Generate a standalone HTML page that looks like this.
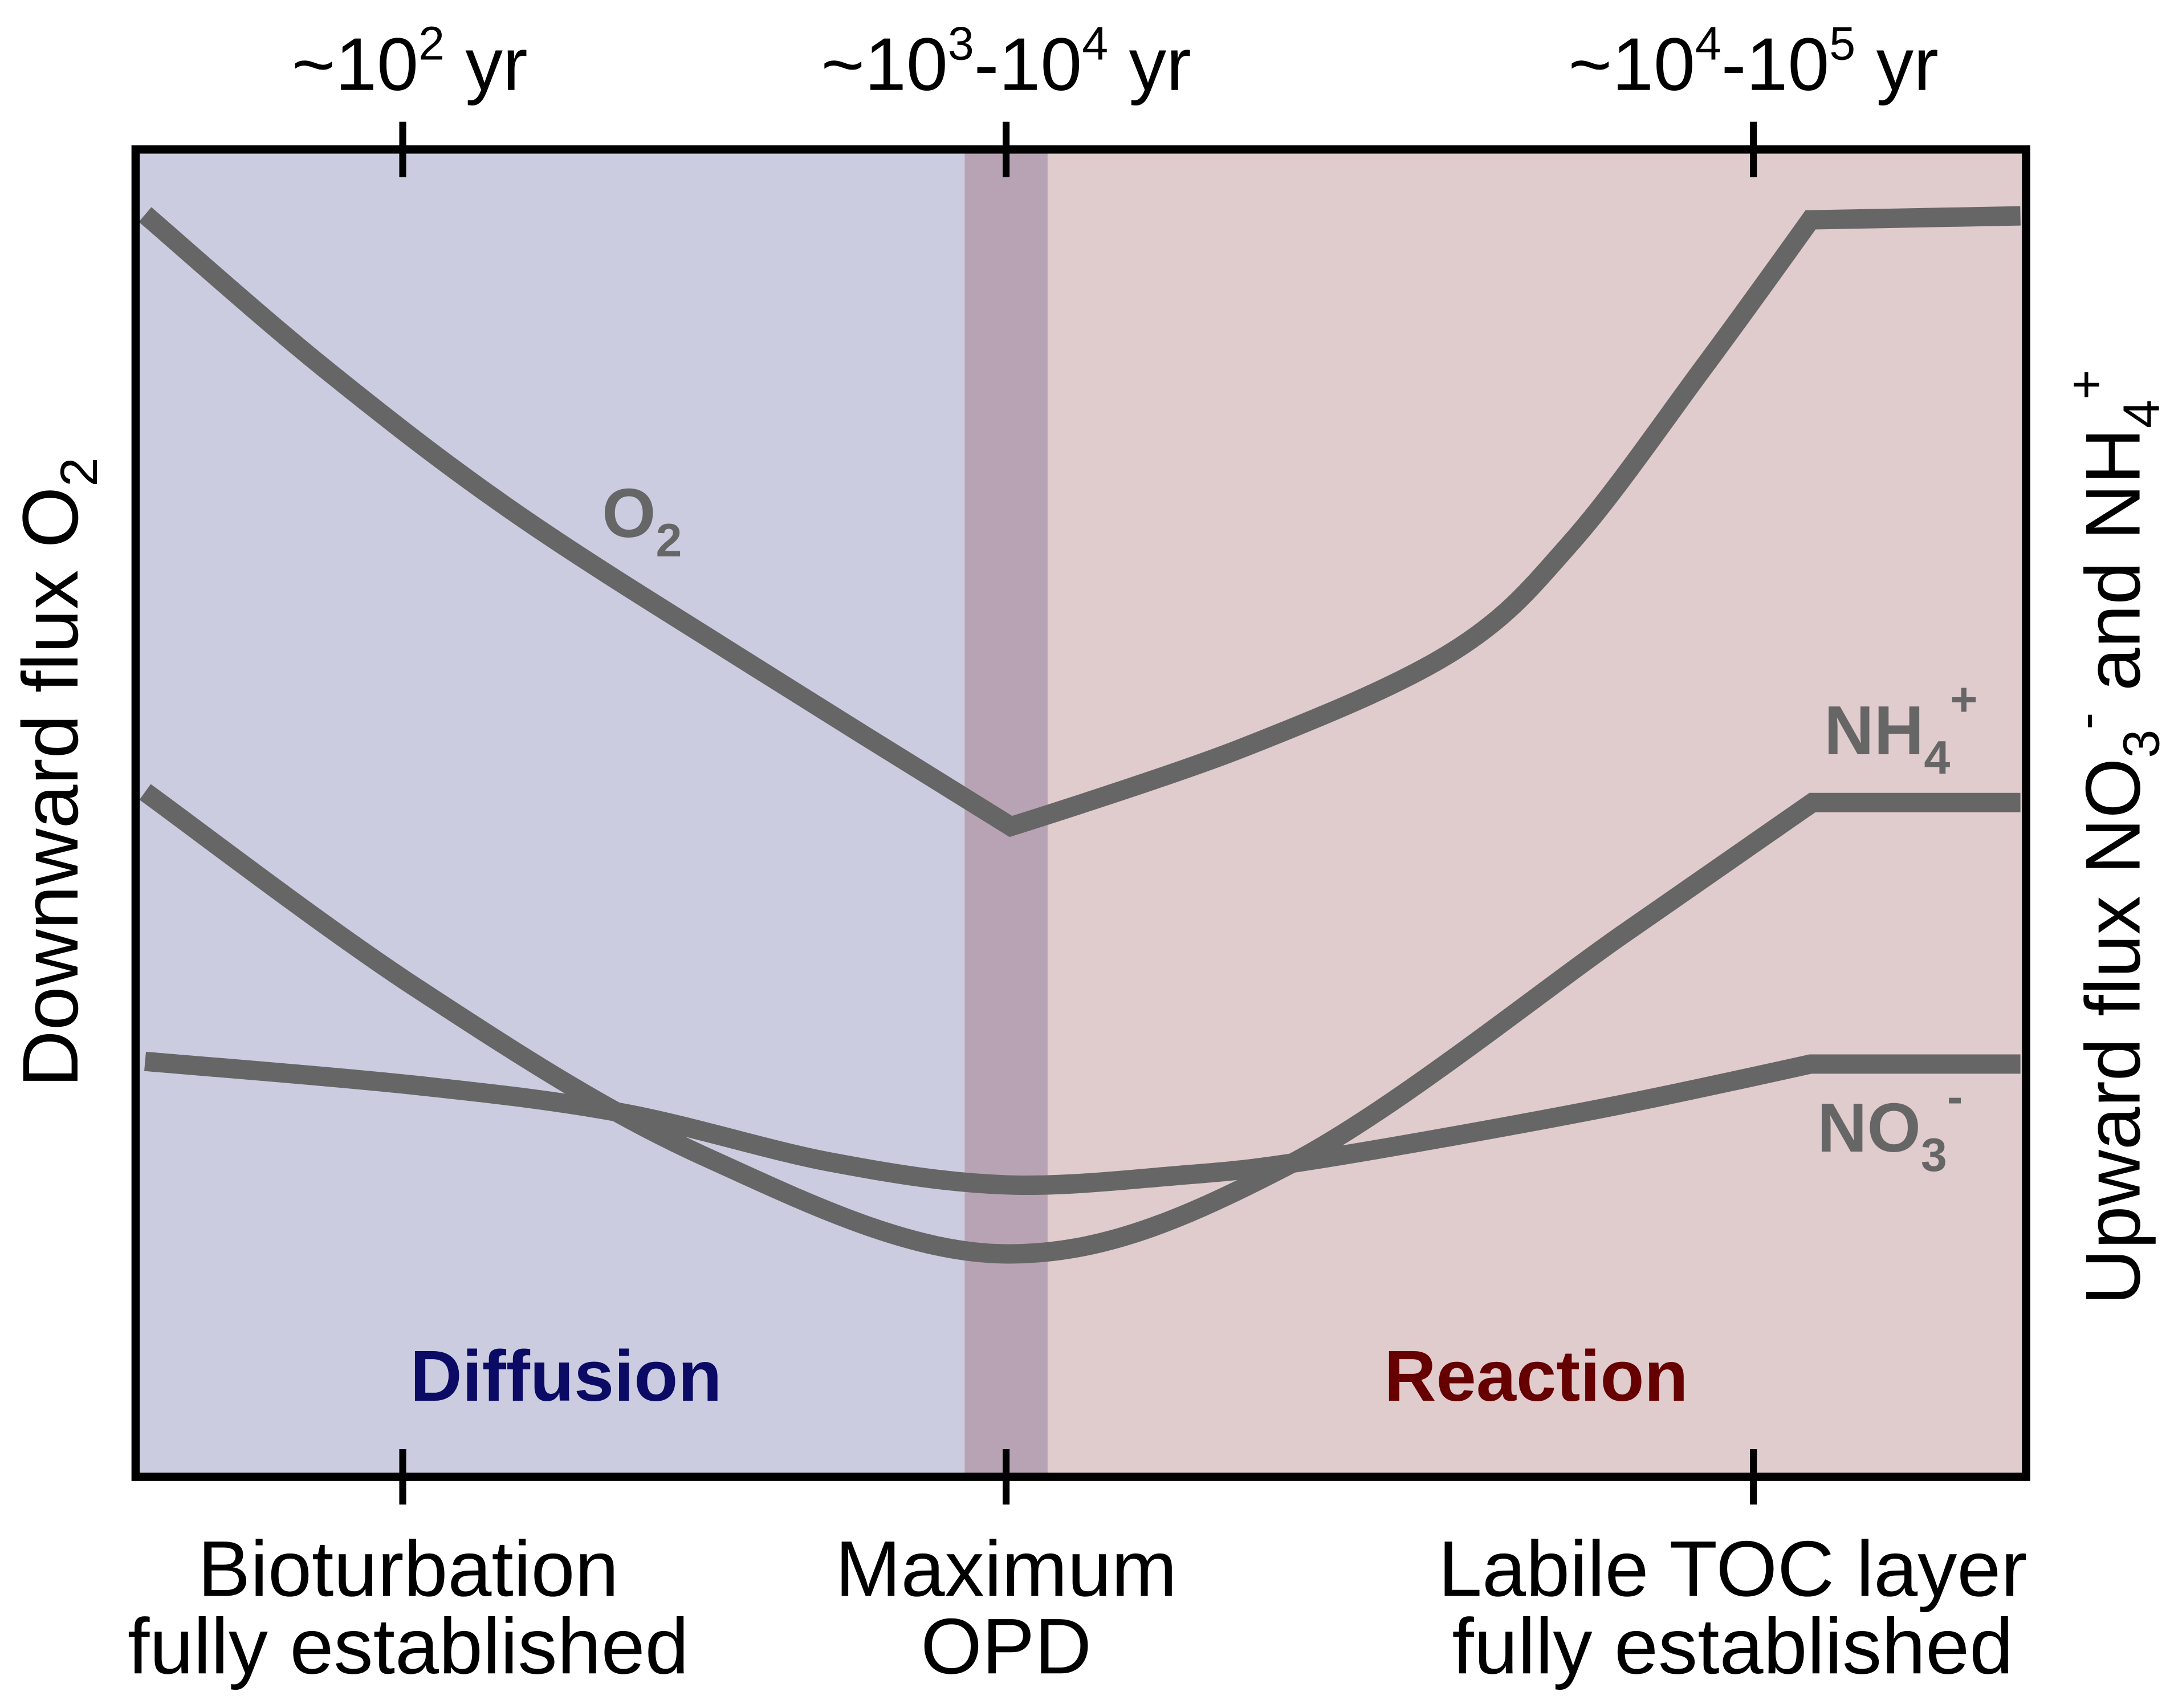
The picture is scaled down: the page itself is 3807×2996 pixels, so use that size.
<!DOCTYPE html>
<html><head><meta charset="utf-8">
<style>
html,body{margin:0;padding:0;background:#fff;}
svg{display:block;}
text{font-family:"Liberation Sans",Arial,sans-serif;}
</style></head>
<body>
<svg id="chart" width="3807" height="2996" viewBox="0 0 1568 1234" preserveAspectRatio="none" xmlns="http://www.w3.org/2000/svg">
  <rect x="98" y="108" width="599" height="959" fill="#cbcce0"/>
  <rect x="757" y="108" width="707" height="959" fill="#e0cbcd"/>
  <rect x="697" y="108" width="60" height="959" fill="#b8a3b4"/>
  <g id="curves"></g>
  <rect x="98" y="108" width="1366" height="959" fill="none" stroke="#000" stroke-width="6"/>
  <g stroke="#000" stroke-width="5">
    <line x1="291" y1="88" x2="291" y2="128"/><line x1="727" y1="88" x2="727" y2="128"/><line x1="1267" y1="88" x2="1267" y2="128"/>
    <line x1="291" y1="1047" x2="291" y2="1087"/><line x1="727" y1="1047" x2="727" y2="1087"/><line x1="1267" y1="1047" x2="1267" y2="1087"/>
  </g>
  <g font-size="54" text-anchor="middle" fill="#000">
    <text x="296" y="65">~10<tspan dy="-22" font-size="34">2</tspan><tspan dy="22"> yr</tspan></text>
    <text x="727" y="65">~10<tspan dy="-22" font-size="34">3</tspan><tspan dy="22">-10</tspan><tspan dy="-22" font-size="34">4</tspan><tspan dy="22"> yr</tspan></text>
    <text x="1267" y="65">~10<tspan dy="-22" font-size="34">4</tspan><tspan dy="22">-10</tspan><tspan dy="-22" font-size="34">5</tspan><tspan dy="22"> yr</tspan></text>
  </g>
  <g font-size="57" text-anchor="middle" fill="#000">
    <text x="295" y="1153">Bioturbation<tspan x="295" y="1209">fully established</tspan></text>
    <text x="727" y="1153">Maximum<tspan x="727" y="1209">OPD</tspan></text>
    <text x="1252" y="1153">Labile TOC layer<tspan x="1252" y="1209">fully established</tspan></text>
  </g>
  <text transform="translate(56,558) rotate(-90)" font-size="57" text-anchor="middle">Downward flux O<tspan dy="14" font-size="38">2</tspan></text>
  <text transform="translate(1546,605) rotate(-90)" font-size="56" text-anchor="middle">Upward flux NO<tspan dy="14" font-size="37">3</tspan><tspan dy="-40" font-size="37">-</tspan><tspan dy="26"> and NH</tspan><tspan dy="14" font-size="37">4</tspan><tspan dy="-40" font-size="37">+</tspan></text>
  <g font-weight="bold" fill="#666" font-size="50">
    <text x="435" y="388">O<tspan dy="14" font-size="34">2</tspan></text>
    <text x="1318" y="545">NH<tspan dy="14" font-size="34">4</tspan><tspan dy="-42" font-size="34">+</tspan></text>
    <text x="1313" y="832">NO<tspan dy="14" font-size="34">3</tspan><tspan dy="-42" font-size="34">-</tspan></text>
  </g>
  <text x="409" y="1012" font-size="52" font-weight="bold" fill="#0b0b66" text-anchor="middle">Diffusion</text>
  <text x="1110" y="1012" font-size="52" font-weight="bold" fill="#660000" text-anchor="middle">Reaction</text>
</svg>
<script>
// x: position across plot (0-100), y: relative flux (0-100)
const o2X = [0.5, 10, 20.1, 33, 46.3, 58.7, 69.7, 76.0, 82.9, 88.6, 99.7];
const o2Y = [95.1, 83.5, 72.6, 60.8, 49.0, 55.0, 62.2, 70.5, 83.5, 94.7, 95.0];
const nh4X = [0.5, 15, 30, 45.9, 61.0, 78.9, 88.7, 99.7];
const nh4Y = [51.6, 36.7, 24.2, 16.8, 23.5, 41.1, 50.8, 50.8];
const no3X = [0.5, 14.8, 25.8, 36.8, 46.0, 55.1, 62.4, 77.0, 88.6, 99.7];
const no3Y = [31.3, 29.5, 27.4, 23.7, 22.0, 22.7, 23.9, 27.6, 31.1, 31.1];
const L=98, T=108, W=1366, H=959;
function sx(v){return L + v/100*W;}
function sy(v){return T + H - v/100*H;}
function pathFor(xs, ys, cornerIdx){
  const p = xs.map((x,i)=>[sx(x), sy(ys[i])]);
  let d = "M"+p[0][0]+","+p[0][1];
  for(let i=0;i<p.length-1;i++){
    const p0 = p[i-1]||p[i], p1=p[i], p2=p[i+1], p3=p[i+2]||p2;
    const sharp1 = cornerIdx.includes(i), sharp2 = cornerIdx.includes(i+1);
    const c1 = sharp1 ? p1 : [p1[0]+(p2[0]-p0[0])/6, p1[1]+(p2[1]-p0[1])/6];
    const c2 = sharp2 ? p2 : [p2[0]-(p3[0]-p1[0])/6, p2[1]-(p3[1]-p1[1])/6];
    d += " C"+c1[0]+","+c1[1]+" "+c2[0]+","+c2[1]+" "+p2[0]+","+p2[1];
  }
  return d;
}
const g = document.getElementById('curves');
function addCurve(xs, ys, corners, name){
  const el = document.createElementNS('http://www.w3.org/2000/svg','path');
  el.setAttribute('d', pathFor(xs, ys, corners));
  el.setAttribute('fill','none');
  el.setAttribute('stroke','#666');
  el.setAttribute('stroke-width','14');
  
  
  g.appendChild(el);
}
addCurve(o2X, o2Y, [4,9], 'o2-curve');
addCurve(nh4X, nh4Y, [6], 'nh4-curve');
addCurve(no3X, no3Y, [8], 'no3-curve');
</script>
</body></html>
